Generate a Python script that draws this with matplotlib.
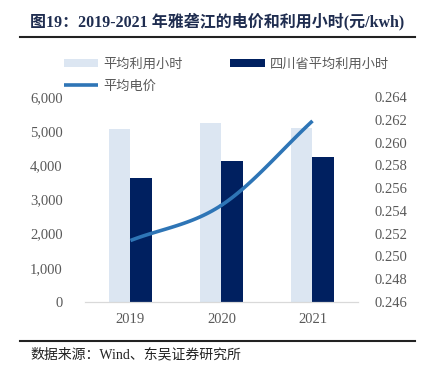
import matplotlib
matplotlib.use('Agg')
import matplotlib.pyplot as plt
import numpy as np
from matplotlib.ticker import FuncFormatter

plt.rcParams['font.family'] = ['Liberation Serif', 'Noto Sans CJK SC']

years = ['2019', '2020', '2021']
avg_hours = [5050, 5230, 5080]
sichuan_hours = [3630, 4140, 4230]
avg_price = [0.2514, 0.2545, 0.2619]

light = '#dce6f2'
dark = '#002060'
blue = '#2e75b6'
grey = '#595959'

fig = plt.figure(figsize=(4.27, 3.76), dpi=100)
ax = fig.add_axes([85 / 427, 74 / 376, 273 / 427, 205 / 376])
ax2 = ax.twinx()

x = np.arange(len(years))
w = 0.24
b1 = ax.bar(x - w / 2, avg_hours, w, color=light, label='平均利用小时')
b2 = ax.bar(x + w / 2, sichuan_hours, w, color=dark, label='四川省平均利用小时')

# smooth line through the points (Catmull-Rom, drawing only)
px = np.array(x, dtype=float)
py = np.array(avg_price)
ext_x = np.concatenate([[2 * px[0] - px[1]], px, [2 * px[-1] - px[-2]]])
ext_y = np.concatenate([[2 * py[0] - py[1]], py, [2 * py[-1] - py[-2]]])
sx, sy = [], []
for i in range(1, len(ext_x) - 2):
    t = np.linspace(0, 1, 30)
    p0, p1, p2, p3 = ext_y[i - 1], ext_y[i], ext_y[i + 1], ext_y[i + 2]
    sy.extend(0.5 * (2 * p1 + (-p0 + p2) * t + (2 * p0 - 5 * p1 + 4 * p2 - p3) * t ** 2
                     + (-p0 + 3 * p1 - 3 * p2 + p3) * t ** 3))
    sx.extend(ext_x[i] + t * (ext_x[i + 1] - ext_x[i]))
l1, = ax2.plot(sx, sy, color=blue, lw=2.6, label='平均电价', solid_capstyle='butt')

ax.set_xlim(-0.5, 2.5)
ax.set_ylim(0, 6000)
ax.set_yticks(range(0, 6001, 1000))
ax.yaxis.set_major_formatter(FuncFormatter(lambda v, p: f'{int(v):,}'))
ax2.set_ylim(0.246, 0.264)
ax2.set_yticks(np.arange(0.246, 0.2641, 0.002))
ax2.yaxis.set_major_formatter(FuncFormatter(lambda v, p: f'{v:.3f}'))
ax.set_xticks(x)
ax.set_xticklabels(years)

for a in (ax, ax2):
    for s in ('top', 'left', 'right'):
        a.spines[s].set_visible(False)
    a.spines['bottom'].set_color('#d9d9d9')
    a.tick_params(length=0, colors=grey, labelsize=10.5)
ax.tick_params(axis='y', pad=16)
ax2.tick_params(axis='y', pad=12)
ax.tick_params(axis='x', pad=8)

fig.legend(handles=[b1, l1, b2], labels=['平均利用小时', '平均电价', '四川省平均利用小时'],
           loc='upper left', bbox_to_anchor=(52 / 427, 1 - 46 / 376), ncol=2,
           frameon=False, prop={'family': 'Noto Sans CJK SC', 'size': 9.5},
           labelcolor=grey, handlelength=2.6, handleheight=0.6, columnspacing=3.6,
           handletextpad=0.4, labelspacing=0.65)

fig.text(30 / 427, 1 - 22 / 376, '图19：2019-2021 年雅砻江的电价和利用小时(元/kwh)',
         fontsize=11.5, fontweight='bold', color='#1f2d50', va='center',
         family=['Liberation Serif', 'Noto Sans CJK SC'])
fig.add_artist(plt.Line2D([20 / 427, 415 / 427], [1 - 37 / 376] * 2, color='#222222', lw=1.5))
fig.add_artist(plt.Line2D([20 / 427, 415 / 427], [1 - 341 / 376] * 2, color='#222222', lw=1.5))
fig.text(30 / 427, 1 - 355 / 376, '数据来源：Wind、东吴证券研究所', fontsize=10, color='#222222',
         va='center', family=['Liberation Serif', 'Noto Sans CJK SC'])

fig.savefig('out.png', dpi=100)
